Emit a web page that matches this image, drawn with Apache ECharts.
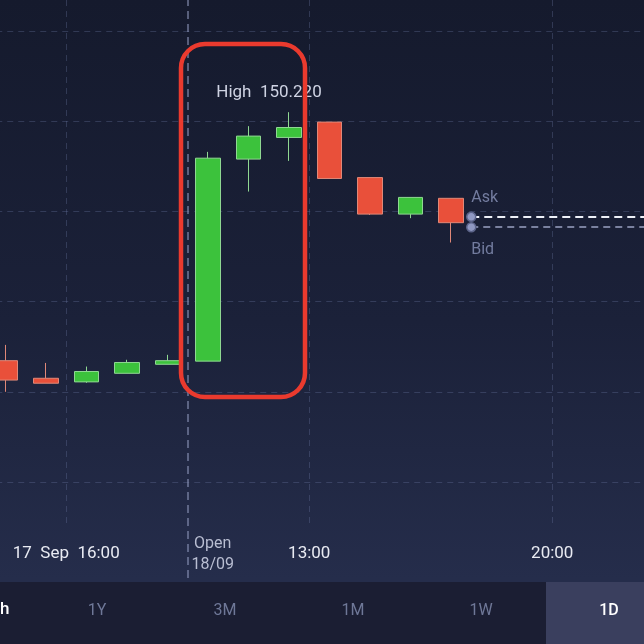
<!DOCTYPE html>
<html><head><meta charset="utf-8">
<script src="https://cdn.jsdelivr.net/npm/echarts@6/dist/echarts.min.js"></script>
<style>html,body{margin:0;padding:0;background:#161b30;}#c{width:644px;height:644px;}</style>
</head><body><div id="c"></div>
<script>
// ---- data ----
const slots = ['1','2','3','4','5','6','7','8','9','10','11','12','13','14','15','16','17'];
const opens  = [149.669, 149.630, 149.622, 149.641, 149.661, 149.668, 150.116, 150.164, 150.198, 150.075, 149.994, 150.029];
const closes = [149.626, 149.619, 149.645, 149.665, 149.669, 150.118, 150.167, 150.186, 150.073, 149.994, 150.031, 149.975];
const lows   = [149.600, 149.619, 149.620, 149.641, 149.661, 149.668, 150.044, 150.112, 150.073, 149.992, 149.985, 149.931];
const highs  = [149.704, 149.664, 149.656, 149.671, 149.682, 150.132, 150.189, 150.220, 150.198, 150.075, 150.031, 150.029];
const timeTicks  = [1.5, 4.5, 7.5, 13.5];
const timeLabels = ['17  Sep  16:00', 'Open\n18/09', '13:00', '20:00'];
const openTick = 4.5;
const gridPrices = [150.4, 150.2, 150.0, 149.8, 149.6, 149.4];
const askPrice = 149.988;
const bidPrice = 149.965;
const quoteStart = 11.5;
const tabs = ['1Y', '3M', '1M', '1W', '1D'];
const activeTab = '1D';

// ---- build ----
const candleData = slots.map((s, i) => i < opens.length ? [opens[i], closes[i], lows[i], highs[i]] : '-');
const yMax = 150.4 + 31 * 0.2 / 90.2;
const yMin = 150.4 - 547 * 0.2 / 90.2;
const vLineBottom = gridPrices[gridPrices.length - 1] - 0.1;

const gridStyle = { color: 'rgba(110,122,165,0.32)', width: 1, type: [6, 5] };

const lineMarks = [];
gridPrices.forEach(p => lineMarks.push({ yAxis: p, lineStyle: gridStyle }));
timeTicks.forEach(t => {
  if (t === openTick) {
    lineMarks.push({ xAxis: t, lineStyle: { color: 'rgba(140,150,185,0.75)', width: 1.5, type: [8, 5] } });
  } else {
    lineMarks.push([{ coord: [t, yMax], lineStyle: gridStyle }, { coord: [t, vLineBottom] }]);
  }
});
lineMarks.push([
  { coord: [quoteStart, askPrice], lineStyle: { color: '#eef1f8', width: 2, type: [8, 5] },
    label: { show: true, formatter: 'Ask', position: 'insideStartTop', distance: [0, 11], color: '#737c9f', fontSize: 16, fontFamily: 'Roboto' } },
  { coord: [slots.length - 0.5, askPrice] }
]);
lineMarks.push([
  { coord: [quoteStart, bidPrice], lineStyle: { color: '#9aa2c2', width: 1.5, type: [7, 5] },
    label: { show: true, formatter: 'Bid', position: 'insideStartBottom', distance: [0, 15], color: '#737c9f', fontSize: 16, fontFamily: 'Roboto' } },
  { coord: [slots.length - 0.5, bidPrice] }
]);

const chart = echarts.init(document.getElementById('c'), null, { renderer: 'canvas' });

const tabGraphics = [
  { type: 'rect', left: 0, top: 582, shape: { width: 644, height: 62 }, style: { fill: '#1b1e33' }, z: 10 },
  { type: 'rect', left: 546, top: 582, shape: { width: 98, height: 62 }, style: { fill: '#3a3f5e' }, z: 11 },
  { type: 'text', left: 0, top: 601, style: { text: 'h', fill: '#ffffff', fontSize: 17, fontFamily: 'Roboto', fontWeight: 500 }, z: 12 }
];
tabs.forEach((t, i) => {
  const active = t === activeTab;
  tabGraphics.push({
    type: 'text', x: 97 + 128 * i, y: 611,
    style: { text: t, fill: active ? '#ffffff' : '#6f7898', fontSize: 16, fontFamily: 'Roboto',
             fontWeight: active ? 500 : 400, align: 'center', verticalAlign: 'middle' },
    z: 12
  });
});
tabGraphics.push({
  type: 'rect', shape: { x: 181, y: 44, width: 124, height: 353, r: 24 },
  style: { fill: 'none', stroke: '#ea3a2e', lineWidth: 4.5 }, z: 20
});

chart.setOption({
  animation: false,
  backgroundColor: { type: 'linear', x: 0, y: 0, x2: 0, y2: 1,
    colorStops: [{ offset: 0, color: '#151a2d' }, { offset: 0.5, color: '#1b2139' }, { offset: 0.9, color: '#252d4b' }, { offset: 1, color: '#252d4b' }] },
  grid: { left: -14.75, right: -29.75, top: 0, bottom: 66, outerBoundsMode: 'none', containLabel: false },
  xAxis: [
    { type: 'category', data: slots, boundaryGap: true, show: false },
    { type: 'value', min: -0.5, max: slots.length - 0.5, interval: 1, position: 'bottom',
      axisLine: { show: false }, axisTick: { show: false }, splitLine: { show: false },
      axisLabel: {
        margin: -24, verticalAlign: 'middle', color: '#e9ebf3', fontSize: 17, fontFamily: 'Roboto', lineHeight: 21,
        showMinLabel: true, showMaxLabel: true,
        formatter: v => {
          const k = timeTicks.findIndex(t => Math.abs(t - v) < 1e-6);
          if (k < 0) return '';
          if (timeTicks[k] === openTick) {
            return timeLabels[k].split('\n').map(s => '{o|' + s + '}').join('\n');
          }
          return timeLabels[k];
        },
        rich: { o: { color: '#b9bed2', fontSize: 16, fontFamily: 'Roboto', lineHeight: 21, padding: [0, 0, 0, 50] } }
      } }
  ],
  yAxis: { type: 'value', min: yMin, max: yMax, show: false, splitLine: { show: false } },
  series: [
    {
      type: 'line', xAxisIndex: 1, yAxisIndex: 0, data: [], silent: true, clip: false,
      markLine: { silent: true, symbol: ['none', 'none'], label: { show: false }, animation: false, data: lineMarks },
      markPoint: { silent: true, animation: false, symbol: 'circle', symbolSize: 9,
        itemStyle: { color: '#8f98c2', borderColor: '#5c648a', borderWidth: 1.5 },
        label: { show: false },
        data: [{ coord: [quoteStart, askPrice] }, { coord: [quoteStart, bidPrice] }] },
      z: 1
    },
    {
      type: 'candlestick', xAxisIndex: 0, yAxisIndex: 0, data: candleData, barWidth: 25,
      itemStyle: { color: '#3cc23c', color0: '#e9503a', borderColor: '#8fd892', borderColor0: '#e08878', borderWidth: 1 },
      markPoint: {
        symbol: 'circle', symbolSize: 0, animation: false,
        data: [{ type: 'max', valueDim: 'highest' }],
        label: { show: true, position: 'top', distance: 0, offset: [-20, -11], color: '#cfd3e3', fontSize: 17, fontFamily: 'Roboto',
          formatter: p => 'High  ' + Number(p.value).toFixed(3) }
      },
      z: 5
    }
  ],
  graphic: tabGraphics
});
</script>
</body></html>
